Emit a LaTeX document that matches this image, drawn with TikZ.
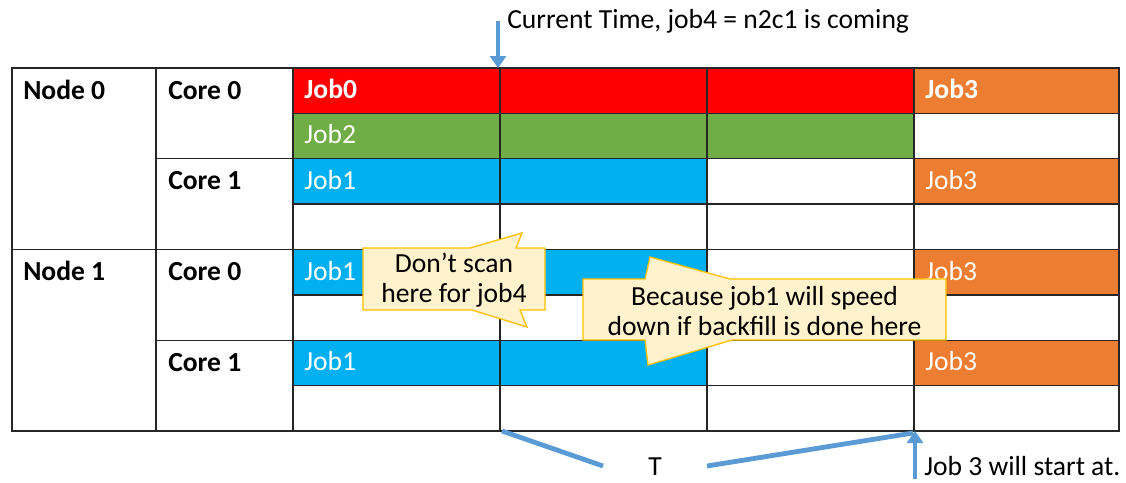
\documentclass[tikz,border=0pt]{standalone}
\usepackage{fontspec}
\setmainfont{Carlito}
\usetikzlibrary{arrows.meta}

\definecolor{jobRed}{HTML}{FF0000}
\definecolor{jobGreen}{HTML}{70AD47}
\definecolor{jobBlue}{HTML}{00B0F0}
\definecolor{jobOrange}{HTML}{ED7D31}
\definecolor{markBlue}{HTML}{5B9BD5}
\definecolor{noteFill}{HTML}{FFF2CC}
\definecolor{noteLine}{HTML}{FFC000}
\definecolor{gridGray}{HTML}{262626}

\begin{document}
\begin{tikzpicture}
[x=0.75pt,y=-0.75pt,
  gridDecorate/.style={draw=gridGray,line width=1.1pt},
  jobDecorate/.style={anchor=base west,inner sep=0pt,text=white,font=\fontsize{20.7}{24}\selectfont},
  headDecorate/.style={anchor=base west,inner sep=0pt,font=\fontsize{20.7}{24}\selectfont\bfseries},
  noteDecorate/.style={fill=noteFill,draw=noteLine,line width=1pt,line join=miter},
  noteText/.style={align=center,inner sep=0pt,font=\fontsize{20.7}{23}\selectfont},
  labelText/.style={inner sep=0pt,font=\fontsize{20.7}{24}\selectfont},
  markLine/.style={draw=markBlue,line width=3.6pt},
  markArrow/.style={markLine,-{Triangle[length=9pt,width=12pt]}}]
\useasboundingbox (0,0) rectangle (1126,482);
%% coloured job cells
\foreach \xa/\xb/\r/\c in {
  293/914/1/jobRed, 914/1119/1/jobOrange, 293/914/2/jobGreen,
  293/707/3/jobBlue, 914/1119/3/jobOrange,
  293/707/5/jobBlue, 914/1119/5/jobOrange,
  293/707/7/jobBlue, 914/1119/7/jobOrange}
{
  \pgfmathsetmacro{\ya}{68+(\r-1)*45.375}
  \fill[\c] (\xa,\ya) rectangle (\xb,{\ya+45.375});
}
%% grid
\draw[gridDecorate] (12,68) rectangle (1119,431);
\foreach \x in {156,293,500,707,914}
{
  \draw[gridDecorate] (\x,68) -- (\x,431);
}
\foreach \y/\xa in {113.375/293, 158.75/156, 204.125/293, 249.5/12,
  294.875/293, 340.25/156, 385.625/293}
{
  \draw[gridDecorate] (\xa,\y) -- (1119,\y);
}
%% row headers
\foreach \nodename/\x/\r/\txt in {
  nodeZero/23/1/Node 0, coreZeroA/168/1/Core 0, coreOneA/168/3/Core 1,
  nodeOne/23/5/Node 1, coreZeroB/168/5/Core 0, coreOneB/168/7/Core 1}
{
  \pgfmathsetmacro{\yb}{68+(\r-1)*45.375+31}
  \node (\nodename) at (\x,\yb) [headDecorate] {\txt};
}
%% job labels
\foreach \nodename/\x/\r/\txt in {
  jobZero/304/1/\textbf{Job0}, jobThreeA/925/1/\textbf{Job3},
  jobTwo/304/2/Job2,
  jobOneA/304/3/Job1, jobThreeB/925/3/Job3,
  jobOneB/304/5/Job1, jobThreeC/925/5/Job3,
  jobOneC/304/7/Job1, jobThreeD/925/7/Job3}
{
  \pgfmathsetmacro{\yb}{68+(\r-1)*45.375+30.5}
  \node (\nodename) at (\x,\yb) [jobDecorate] {\txt};
}
%% callouts
\path[noteDecorate] (363,248) -- (470,248) -- (522,233) -- (516,248)
  -- (545,248) -- (545,310) -- (520,310) -- (527,327) -- (472,310)
  -- (363,310) -- cycle;
\node (noScan) at (454,280) [noteText] {Don’t scan\\here for job4};
\path[noteDecorate] (583,279) -- (645,279) -- (650,257) -- (730,279)
  -- (946,279) -- (946,340) -- (732,340) -- (648,365) -- (645,340)
  -- (583,340) -- cycle;
\node (slowDown) at (764.5,311) [noteText] {Because job1 will speed\\down if backfill is done here};
%% current time mark
\node (nowText) at (507,28) [labelText,anchor=base west] {Current Time, job4 = n2c1 is coming};
\coordinate (nowTail) at (498,21);
\coordinate (nowTip) at (498,68);
\draw[markArrow] (nowTail) -- (nowTip);
%% interval T
\node (tLabel) at (655,475) [labelText,anchor=base] {T};
\coordinate (tStart) at (502,431);
\coordinate (tLeft) at (603,466);
\coordinate (tRight) at (707,466);
\coordinate (tEnd) at (913,433);
\draw[markLine] (tStart) -- (tLeft);
\draw[markLine] (tRight) -- (tEnd);
%% job 3 start mark
\node (startText) at (924,475) [labelText,anchor=base west] {Job 3 will start at.};
\coordinate (startTail) at (915,479);
\coordinate (startTip) at (915,431);
\draw[markArrow] (startTail) -- (startTip);
\end{tikzpicture}
\end{document}
